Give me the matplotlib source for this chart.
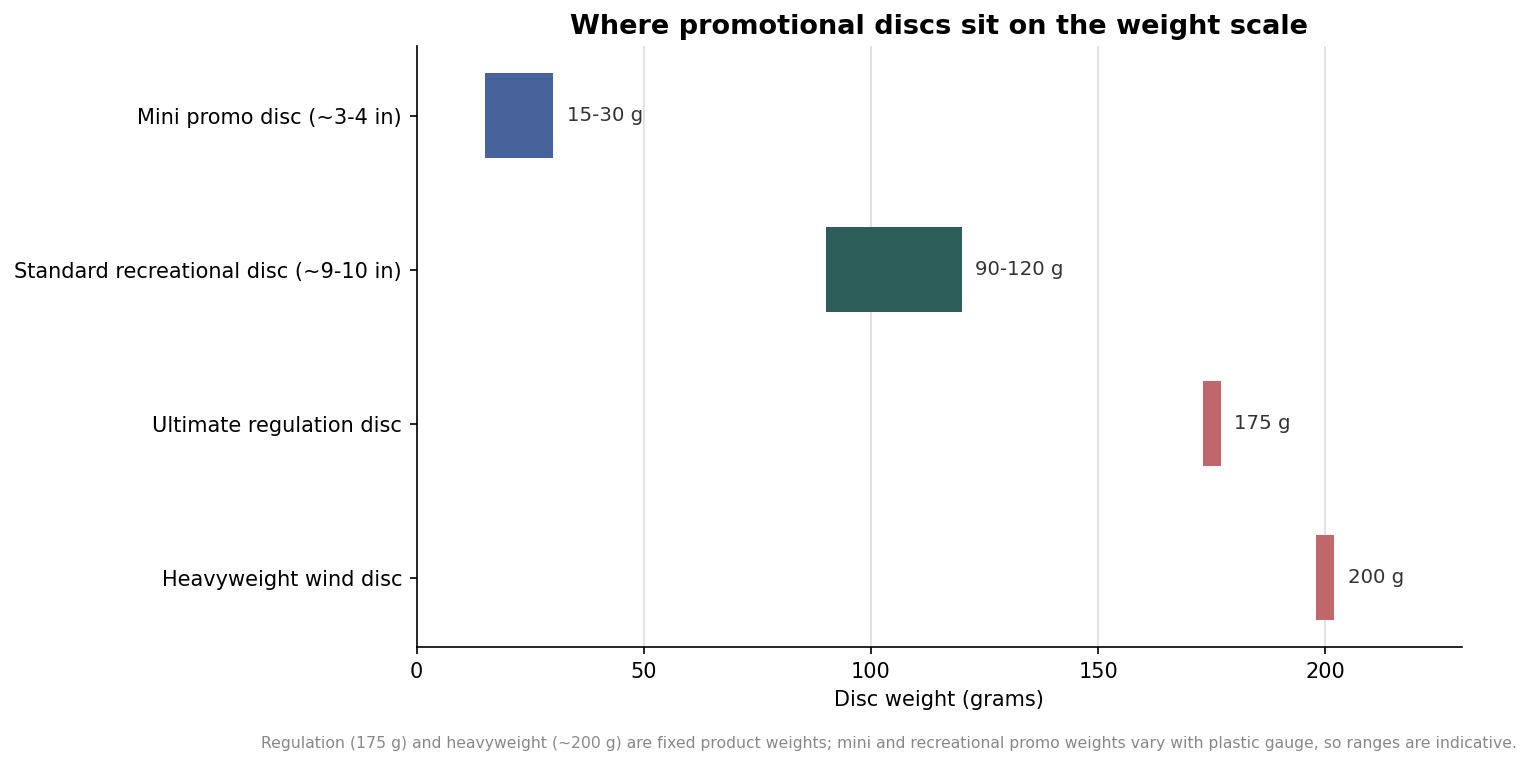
import matplotlib.pyplot as plt

# disc categories and their weight ranges (grams)
categories = ["Mini promo disc (~3-4 in)", "Standard recreational disc (~9-10 in)",
              "Ultimate regulation disc", "Heavyweight wind disc"]
low = [15, 90, 173, 198]
high = [30, 120, 177, 202]
labels = ["15-30 g", "90-120 g", "175 g", "200 g"]
colors = ["#48639b", "#2e5e59", "#c0676b", "#c0676b"]

fig = plt.figure(figsize=(1532 / 150, 767 / 150), dpi=150)
ax = fig.add_axes([0.272, 0.156, 0.682, 0.784])

ypos = list(range(len(categories)))
widths = [h - l for l, h in zip(low, high)]
ax.barh(ypos, widths, left=low, height=0.55, color=colors, zorder=3)

for y, h, lab in zip(ypos, high, labels):
    ax.text(h + 3, y, lab, va="center", ha="left", fontsize=9.5, color="#333333")

ax.set_yticks(ypos)
ax.set_yticklabels(categories, fontsize=10)
ax.invert_yaxis()
ax.set_xlim(0, 230)
ax.set_xticks([0, 50, 100, 150, 200])
ax.tick_params(axis="x", labelsize=10)
ax.set_xlabel("Disc weight (grams)", fontsize=10)
ax.set_title("Where promotional discs sit on the weight scale", fontsize=13, fontweight="bold")
ax.grid(axis="x", color="#dddddd", linewidth=0.8, zorder=0)
ax.spines["top"].set_visible(False)
ax.spines["right"].set_visible(False)

fig.text(0.99, 0.03, "Regulation (175 g) and heavyweight (~200 g) are fixed product weights; mini and "
         "recreational promo weights vary with plastic gauge, so ranges are indicative.",
         ha="right", va="center", fontsize=7.5, color="#888888")

fig.savefig("out.png", dpi=150)
